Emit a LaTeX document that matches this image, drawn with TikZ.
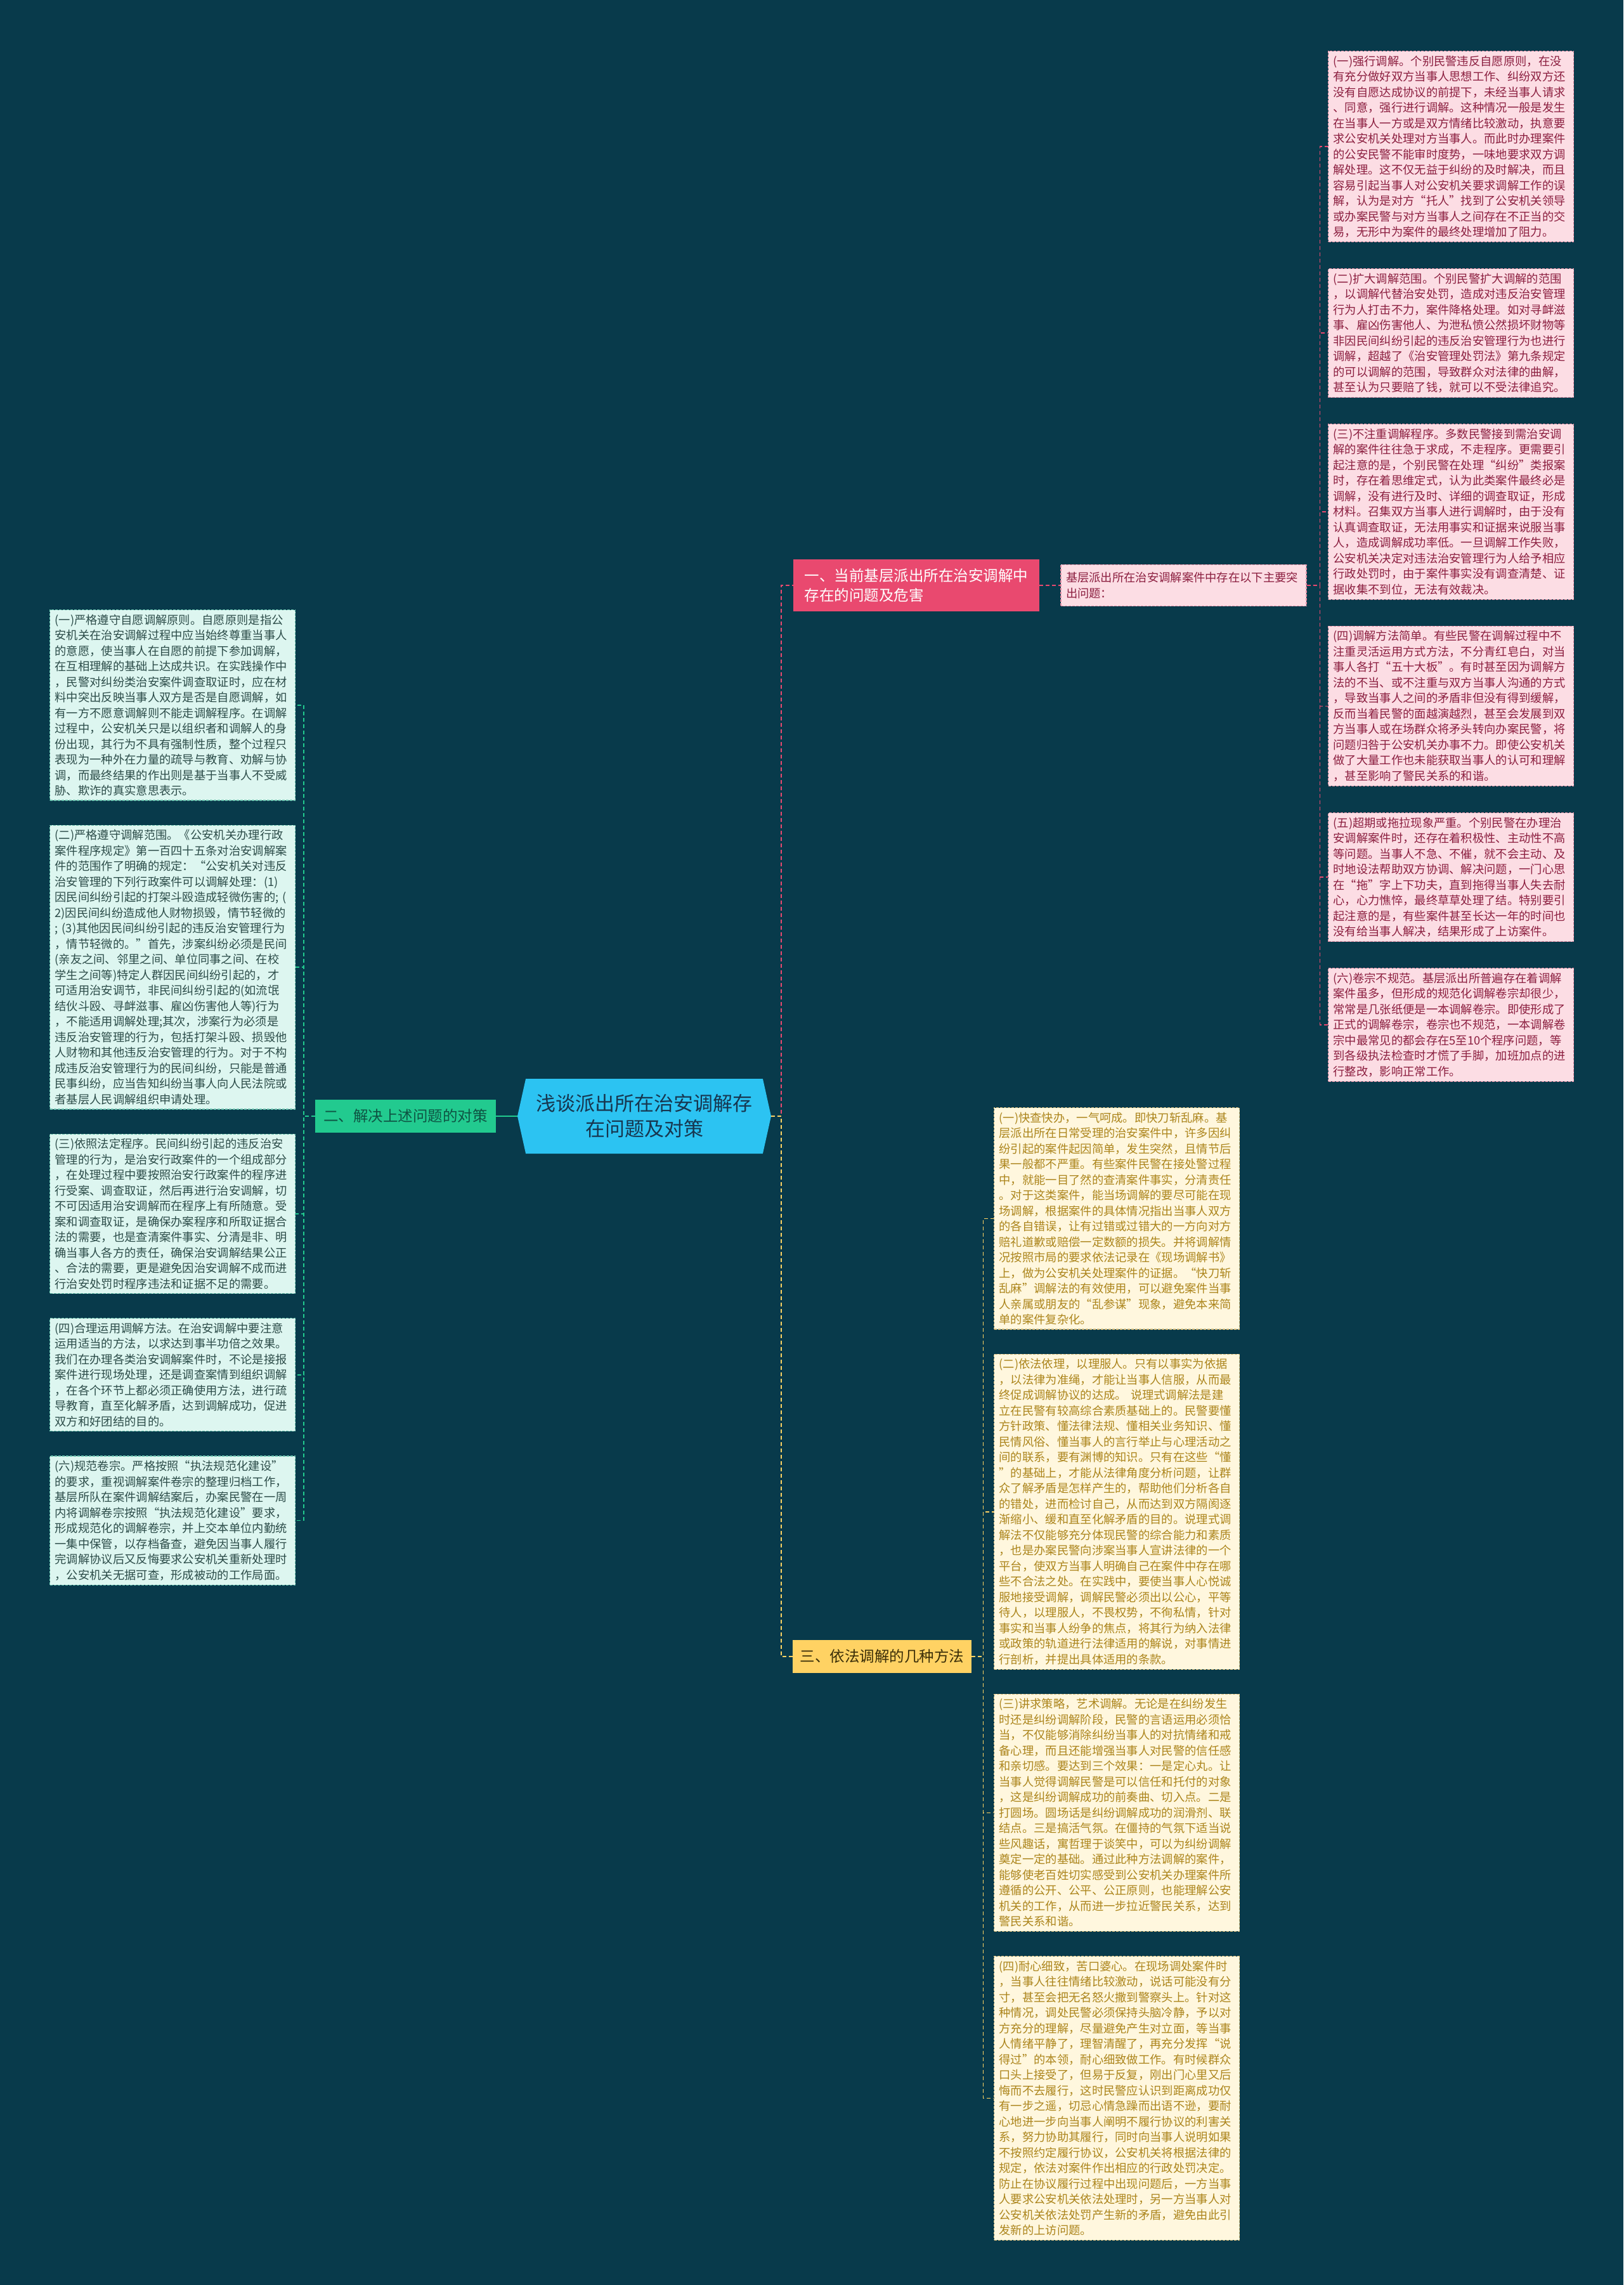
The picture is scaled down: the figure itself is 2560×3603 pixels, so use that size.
\documentclass[tikz,border=0pt]{standalone}
\usepackage{fontspec}
\setmainfont{Noto Sans CJK SC}
\usetikzlibrary{positioning,shapes.symbols}

\definecolor{bgteal}{HTML}{083A4B}
\definecolor{hubcyan}{HTML}{2CC3F2}
\definecolor{hubtext}{HTML}{17364F}
\definecolor{redfill}{HTML}{E9496F}
\definecolor{greenfill}{HTML}{22CA8F}
\definecolor{greentext}{HTML}{0E5443}
\definecolor{goldfill}{HTML}{FFD263}
\definecolor{goldtext}{HTML}{3A2E08}
\definecolor{pinkfill}{HTML}{FCDDE4}
\definecolor{pinkline}{HTML}{E38FA5}
\definecolor{pinktext}{HTML}{8C1F40}
\definecolor{mintfill}{HTML}{DDF6F0}
\definecolor{mintline}{HTML}{6CC4B0}
\definecolor{minttext}{HTML}{2C4C49}
\definecolor{creamfill}{HTML}{FFF7DE}
\definecolor{creamline}{HTML}{D6BC7C}
\definecolor{creamtext}{HTML}{AC851C}

\tikzset{
  notebox/.style={draw, dash pattern=on 4pt off 2pt, line width=1.2pt, align=left,
    text width=371pt, inner xsep=8pt, inner ysep=7pt,
    font={\fontsize{18.3}{24.5}\selectfont}},
  pinknote/.style={notebox, fill=pinkfill, draw=pinkline, text=pinktext},
  mintnote/.style={notebox, fill=mintfill, draw=mintline, text=minttext},
  creamnote/.style={notebox, fill=creamfill, draw=creamline, text=creamtext},
  branchbox/.style={align=left, inner xsep=13pt, inner ysep=15pt,
    font={\fontsize{23.5}{31}\selectfont}},
  hub/.style={signal, signal to=east and west, signal pointer angle=155,
    fill=hubcyan, text=hubtext, align=center, text width=345pt,
    minimum width=400pt, minimum height=118pt, inner sep=0pt,
    font={\fontsize{31}{40}\selectfont}},
  pinkwire/.style={draw=redfill, dash pattern=on 6pt off 4pt, line width=1.6pt},
  greenwire/.style={draw=greenfill, dash pattern=on 6pt off 4pt, line width=1.6pt},
  goldwire/.style={draw=goldfill, dash pattern=on 6pt off 4pt, line width=1.6pt}
}

\begin{document}
\begin{tikzpicture}[x=1pt, y=-1pt, node distance=38pt]
  \useasboundingbox (0,0) rectangle (2560,3603);
  \fill[bgteal] (0,0) rectangle (2560,3603);

  % centre and the three branches
  \node[hub] (c) at (1016,1760) {浅谈派出所在治安调解存\\在问题及对策};
  \node[branchbox, fill=redfill, text=white, inner xsep=18pt] (b1) at (1445,923)
    {一、当前基层派出所在治安调解中\\存在的问题及危害};
  \node[branchbox, fill=greenfill, text=greentext, left=34pt of c] (b2) {二、解决上述问题的对策};
  \node[branchbox, fill=goldfill, text=goldtext, inner xsep=12pt] (b3) at (1391,2612) {三、依法调解的几种方法};
  \node[pinknote, right=33pt of b1, inner ysep=12pt] (k)
    {基层派出所在治安调解案件中存在以下主要突\\出问题：};

  % problems
  \node[pinknote, anchor=north west] (pr1) at (2094,80) {(一)强行调解。个别民警违反自愿原则，在没\\
有充分做好双方当事人思想工作、纠纷双方还\\
没有自愿达成协议的前提下，未经当事人请求\\
、同意，强行进行调解。这种情况一般是发生\\
在当事人一方或是双方情绪比较激动，执意要\\
求公安机关处理对方当事人。而此时办理案件\\
的公安民警不能审时度势，一味地要求双方调\\
解处理。这不仅无益于纠纷的及时解决，而且\\
容易引起当事人对公安机关要求调解工作的误\\
解，认为是对方“托人”找到了公安机关领导\\
或办案民警与对方当事人之间存在不正当的交\\
易，无形中为案件的最终处理增加了阻力。};
  \node[pinknote, below=41pt of pr1] (pr2) {(二)扩大调解范围。个别民警扩大调解的范围\\
，以调解代替治安处罚，造成对违反治安管理\\
行为人打击不力，案件降格处理。如对寻衅滋\\
事、雇凶伤害他人、为泄私愤公然损坏财物等\\
非因民间纠纷引起的违反治安管理行为也进行\\
调解，超越了《治安管理处罚法》第九条规定\\
的可以调解的范围，导致群众对法律的曲解，\\
甚至认为只要赔了钱，就可以不受法律追究。};
  \node[pinknote, below=41pt of pr2] (pr3) {(三)不注重调解程序。多数民警接到需治安调\\
解的案件往往急于求成，不走程序。更需要引\\
起注意的是，个别民警在处理“纠纷”类报案\\
时，存在着思维定式，认为此类案件最终必是\\
调解，没有进行及时、详细的调查取证，形成\\
材料。召集双方当事人进行调解时，由于没有\\
认真调查取证，无法用事实和证据来说服当事\\
人，造成调解成功率低。一旦调解工作失败，\\
公安机关决定对违法治安管理行为人给予相应\\
行政处罚时，由于案件事实没有调查清楚、证\\
据收集不到位，无法有效裁决。};
  \node[pinknote, below=41pt of pr3] (pr4) {(四)调解方法简单。有些民警在调解过程中不\\
注重灵活运用方式方法，不分青红皂白，对当\\
事人各打“五十大板”。有时甚至因为调解方\\
法的不当、或不注重与双方当事人沟通的方式\\
，导致当事人之间的矛盾非但没有得到缓解，\\
反而当着民警的面越演越烈，甚至会发展到双\\
方当事人或在场群众将矛头转向办案民警，将\\
问题归咎于公安机关办事不力。即使公安机关\\
做了大量工作也未能获取当事人的认可和理解\\
，甚至影响了警民关系的和谐。};
  \node[pinknote, below=41pt of pr4] (pr5) {(五)超期或拖拉现象严重。个别民警在办理治\\
安调解案件时，还存在着积极性、主动性不高\\
等问题。当事人不急、不催，就不会主动、及\\
时地设法帮助双方协调、解决问题，一门心思\\
在“拖”字上下功夫，直到拖得当事人失去耐\\
心，心力憔悴，最终草草处理了结。特别要引\\
起注意的是，有些案件甚至长达一年的时间也\\
没有给当事人解决，结果形成了上访案件。};
  \node[pinknote, below=41pt of pr5] (pr6) {(六)卷宗不规范。基层派出所普遍存在着调解\\
案件虽多，但形成的规范化调解卷宗却很少，\\
常常是几张纸便是一本调解卷宗。即使形成了\\
正式的调解卷宗，卷宗也不规范，一本调解卷\\
宗中最常见的都会存在5至10个程序问题，等\\
到各级执法检查时才慌了手脚，加班加点的进\\
行整改，影响正常工作。};

  % countermeasures
  \node[mintnote, anchor=north west] (ct1) at (78,961) {(一)严格遵守自愿调解原则。自愿原则是指公\\
安机关在治安调解过程中应当始终尊重当事人\\
的意愿，使当事人在自愿的前提下参加调解，\\
在互相理解的基础上达成共识。在实践操作中\\
，民警对纠纷类治安案件调查取证时，应在材\\
料中突出反映当事人双方是否是自愿调解，如\\
有一方不愿意调解则不能走调解程序。在调解\\
过程中，公安机关只是以组织者和调解人的身\\
份出现，其行为不具有强制性质，整个过程只\\
表现为一种外在力量的疏导与教育、劝解与协\\
调，而最终结果的作出则是基于当事人不受威\\
胁、欺诈的真实意思表示。};
  \node[mintnote, below=of ct1] (ct2) {(二)严格遵守调解范围。《公安机关办理行政\\
案件程序规定》第一百四十五条对治安调解案\\
件的范围作了明确的规定：“公安机关对违反\\
治安管理的下列行政案件可以调解处理：(1)\\
因民间纠纷引起的打架斗殴造成轻微伤害的;~(\\
2)因民间纠纷造成他人财物损毁，情节轻微的\\
;~(3)其他因民间纠纷引起的违反治安管理行为\\
，情节轻微的。”首先，涉案纠纷必须是民间\\
(亲友之间、邻里之间、单位同事之间、在校\\
学生之间等)特定人群因民间纠纷引起的，才\\
可适用治安调节，非民间纠纷引起的(如流氓\\
结伙斗殴、寻衅滋事、雇凶伤害他人等)行为\\
，不能适用调解处理;其次，涉案行为必须是\\
违反治安管理的行为，包括打架斗殴、损毁他\\
人财物和其他违反治安管理的行为。对于不构\\
成违反治安管理行为的民间纠纷，只能是普通\\
民事纠纷，应当告知纠纷当事人向人民法院或\\
者基层人民调解组织申请处理。};
  \node[mintnote, below=of ct2] (ct3) {(三)依照法定程序。民间纠纷引起的违反治安\\
管理的行为，是治安行政案件的一个组成部分\\
，在处理过程中要按照治安行政案件的程序进\\
行受案、调查取证，然后再进行治安调解，切\\
不可因适用治安调解而在程序上有所随意。受\\
案和调查取证，是确保办案程序和所取证据合\\
法的需要，也是查清案件事实、分清是非、明\\
确当事人各方的责任，确保治安调解结果公正\\
、合法的需要，更是避免因治安调解不成而进\\
行治安处罚时程序违法和证据不足的需要。};
  \node[mintnote, below=of ct3] (ct4) {(四)合理运用调解方法。在治安调解中要注意\\
运用适当的方法，以求达到事半功倍之效果。\\
我们在办理各类治安调解案件时，不论是接报\\
案件进行现场处理，还是调查案情到组织调解\\
，在各个环节上都必须正确使用方法，进行疏\\
导教育，直至化解矛盾，达到调解成功，促进\\
双方和好团结的目的。};
  \node[mintnote, below=of ct4] (ct5) {(六)规范卷宗。严格按照“执法规范化建设”\\
的要求，重视调解案件卷宗的整理归档工作，\\
基层所队在案件调解结案后，办案民警在一周\\
内将调解卷宗按照“执法规范化建设”要求，\\
形成规范化的调解卷宗，并上交本单位内勤统\\
一集中保管，以存档备查，避免因当事人履行\\
完调解协议后又反悔要求公安机关重新处理时\\
，公安机关无据可查，形成被动的工作局面。};

  % methods
  \node[creamnote, anchor=north west] (me1) at (1567,1746) {(一)快查快办，一气呵成。即快刀斩乱麻。基\\
层派出所在日常受理的治安案件中，许多因纠\\
纷引起的案件起因简单，发生突然，且情节后\\
果一般都不严重。有些案件民警在接处警过程\\
中，就能一目了然的查清案件事实，分清责任\\
。对于这类案件，能当场调解的要尽可能在现\\
场调解，根据案件的具体情况指出当事人双方\\
的各自错误，让有过错或过错大的一方向对方\\
赔礼道歉或赔偿一定数额的损失。并将调解情\\
况按照市局的要求依法记录在《现场调解书》\\
上，做为公安机关处理案件的证据。“快刀斩\\
乱麻”调解法的有效使用，可以避免案件当事\\
人亲属或朋友的“乱参谋”现象，避免本来简\\
单的案件复杂化。};
  \node[creamnote, below=of me1] (me2) {(二)依法依理，以理服人。只有以事实为依据\\
，以法律为准绳，才能让当事人信服，从而最\\
终促成调解协议的达成。~说理式调解法是建\\
立在民警有较高综合素质基础上的。民警要懂\\
方针政策、懂法律法规、懂相关业务知识、懂\\
民情风俗、懂当事人的言行举止与心理活动之\\
间的联系，要有渊博的知识。只有在这些“懂\\
”的基础上，才能从法律角度分析问题，让群\\
众了解矛盾是怎样产生的，帮助他们分析各自\\
的错处，进而检讨自己，从而达到双方隔阂逐\\
渐缩小、缓和直至化解矛盾的目的。说理式调\\
解法不仅能够充分体现民警的综合能力和素质\\
，也是办案民警向涉案当事人宣讲法律的一个\\
平台，使双方当事人明确自己在案件中存在哪\\
些不合法之处。在实践中，要使当事人心悦诚\\
服地接受调解，调解民警必须出以公心，平等\\
待人，以理服人，不畏权势，不徇私情，针对\\
事实和当事人纷争的焦点，将其行为纳入法律\\
或政策的轨道进行法律适用的解说，对事情进\\
行剖析，并提出具体适用的条款。};
  \node[creamnote, below=of me2] (me3) {(三)讲求策略，艺术调解。无论是在纠纷发生\\
时还是纠纷调解阶段，民警的言语运用必须恰\\
当，不仅能够消除纠纷当事人的对抗情绪和戒\\
备心理，而且还能增强当事人对民警的信任感\\
和亲切感。要达到三个效果：一是定心丸。让\\
当事人觉得调解民警是可以信任和托付的对象\\
，这是纠纷调解成功的前奏曲、切入点。二是\\
打圆场。圆场话是纠纷调解成功的润滑剂、联\\
结点。三是搞活气氛。在僵持的气氛下适当说\\
些风趣话，寓哲理于谈笑中，可以为纠纷调解\\
奠定一定的基础。通过此种方法调解的案件，\\
能够使老百姓切实感受到公安机关办理案件所\\
遵循的公开、公平、公正原则，也能理解公安\\
机关的工作，从而进一步拉近警民关系，达到\\
警民关系和谐。};
  \node[creamnote, below=of me3] (me4) {(四)耐心细致，苦口婆心。在现场调处案件时\\
，当事人往往情绪比较激动，说话可能没有分\\
寸，甚至会把无名怒火撒到警察头上。针对这\\
种情况，调处民警必须保持头脑冷静，予以对\\
方充分的理解，尽量避免产生对立面，等当事\\
人情绪平静了，理智清醒了，再充分发挥“说\\
得过”的本领，耐心细致做工作。有时候群众\\
口头上接受了，但易于反复，刚出门心里又后\\
悔而不去履行，这时民警应认识到距离成功仅\\
有一步之遥，切忌心情急躁而出语不逊，要耐\\
心地进一步向当事人阐明不履行协议的利害关\\
系，努力协助其履行，同时向当事人说明如果\\
不按照约定履行协议，公安机关将根据法律的\\
规定，依法对案件作出相应的行政处罚决定。\\
防止在协议履行过程中出现问题后，一方当事\\
人要求公安机关依法处理时，另一方当事人对\\
公安机关依法处罚产生新的矛盾，避免由此引\\
发新的上访问题。};

  % connectors
  \draw[pinkwire] (c.east) -- ++(16,0) |- (b1.west);
  \draw[goldwire] (c.east) -- ++(16,0) |- (b3.west);
  \draw[draw=greenfill, line width=1.6pt] (c.west) -- (b2.east);
  \draw[pinkwire] (b1.east) -- (k.west);
  \draw[pinkwire] (k.east) -- ++(21,0) |- (pr1.west);
  \draw[pinkwire] (k.east) -- ++(21,0) |- (pr2.west);
  \draw[pinkwire] (k.east) -- ++(21,0) |- (pr3.west);
  \draw[pinkwire] (k.east) -- ++(21,0) |- (pr4.west);
  \draw[pinkwire] (k.east) -- ++(21,0) |- (pr5.west);
  \draw[pinkwire] (k.east) -- ++(21,0) |- (pr6.west);
  \draw[greenwire] (b2.west) -- ++(-18,0) |- (ct1.east);
  \draw[greenwire] (b2.west) -- ++(-18,0) |- (ct2.east);
  \draw[greenwire] (b2.west) -- ++(-18,0) |- (ct3.east);
  \draw[greenwire] (b2.west) -- ++(-18,0) |- (ct4.east);
  \draw[greenwire] (b2.west) -- ++(-18,0) |- (ct5.east);
  \draw[goldwire] (b3.east) -- ++(18,0) |- (me1.west);
  \draw[goldwire] (b3.east) -- ++(18,0) |- (me2.west);
  \draw[goldwire] (b3.east) -- ++(18,0) |- (me3.west);
  \draw[goldwire] (b3.east) -- ++(18,0) |- (me4.west);
\end{tikzpicture}
\end{document}
